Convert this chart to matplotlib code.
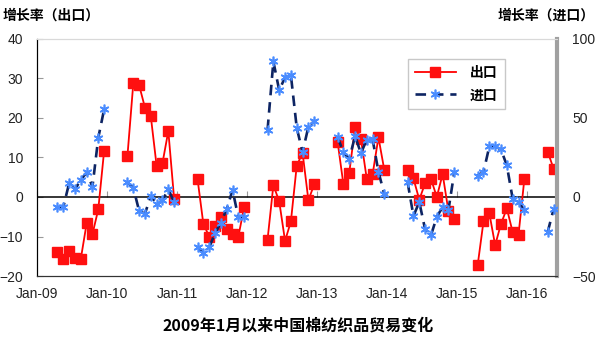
import numpy as np
import pandas as pd
import matplotlib
matplotlib.use("Agg")
import matplotlib.pyplot as plt
from matplotlib.lines import Line2D

CJK = ["Noto Sans CJK SC", "DejaVu Sans"]
LATIN = ["Liberation Sans", "DejaVu Sans"]

# 每年只有4月-12月的数据（2016年只有4-5月）
years = [2009, 2010, 2011, 2012, 2013, 2014, 2015, 2016]

exp_2009 = [-14.0, -15.7, -13.7, -15.4, -15.7, -6.7, -9.4, -3.1, 11.7]
exp_2010 = [10.5, 28.8, 28.3, 22.6, 20.4, 7.8, 8.6, 16.7, -0.6]
exp_2011 = [4.6, -6.8, -10.0, -7.4, -5.0, -8.2, -9.4, -10.0, -2.5]
exp_2012 = [-10.8, 3.0, -1.1, -11.1, -6.2, 7.9, 11.2, -0.8, 3.2]
exp_2013 = [14.0, 3.2, 6.1, 17.7, 14.7, 4.6, 5.7, 15.1, 6.9]
exp_2014 = [6.9, 4.7, -0.7, 3.5, 4.6, 0.0, 5.8, -3.6, -5.6]
exp_2015 = [-17.3, -6.2, -4.1, -12.2, -6.8, -2.9, -8.9, -9.6, 4.5]
exp_2016 = [11.5, 7.2]

imp_2009 = [-6.5, -6.5, 8.7, 4.9, 10.8, 15.6, 6.5, 37.5, 55.5]
imp_2010 = [9.3, 5.9, -8.9, -10.5, 0.6, -4.4, -2.1, 4.9, -3.4]
imp_2011 = [-31.4, -35.7, -31.9, -23.0, -16.2, -7.8, 4.4, -12.9, -12.4]
imp_2012 = [42.4, 85.8, 67.5, 75.8, 77.1, 43.9, 28.3, 44.5, 48.1]
imp_2013 = [38.0, 28.3, 24.1, 38.5, 27.7, 36.3, 36.6, 16.0, 1.9]
imp_2014 = [9.3, -12.0, -3.2, -20.5, -24.3, -12.6, -6.3, -8.2, 15.8]
imp_2015 = [13.6, 15.7, 32.0, 32.0, 30.1, 20.0, -1.1, -3.0, -8.4]
imp_2016 = [-22.2, -7.8]

tick_labels = ["Jan-09", "Jan-10", "Jan-11", "Jan-12",
               "Jan-13", "Jan-14", "Jan-15", "Jan-16"]


def monthly(parts):
    idx = pd.period_range("2009-01", "2016-05", freq="M")
    s = pd.Series(np.nan, index=idx)
    for y, vals in zip(years, parts):
        s[pd.period_range(f"{y}-04", periods=len(vals), freq="M")] = vals
    return s


export = monthly([exp_2009, exp_2010, exp_2011, exp_2012,
                  exp_2013, exp_2014, exp_2015, exp_2016])
imports = monthly([imp_2009, imp_2010, imp_2011, imp_2012,
                   imp_2013, imp_2014, imp_2015, imp_2016])
x = np.arange(len(export)) + 0.5

fig = plt.figure(figsize=(5.96, 3.37), dpi=100)
ax = fig.add_axes([0.0621, 0.181, 0.8725, 0.7033])
ax2 = ax.twinx()

ax.plot(x, export.values, color="#ff0000", lw=1.3, marker="s", ms=6.8,
        mfc="#ff1010", mec="#ff1010", zorder=3)
ax2.plot(x, imports.values, color="#0d2463", lw=1.9, dashes=(4, 2.6),
         marker=(6, 2, 0), ms=7, mec="#4a8cff", mew=1.2, zorder=3)

ax.set_xlim(0, 89.1)
ax.set_ylim(-20, 40)
ax2.set_ylim(-50, 100)
ax.set_yticks(range(-20, 41, 10))
ax2.set_yticks([-50, 0, 50, 100])
ax.set_xticks(np.arange(0, 85, 12))
ax.set_xticklabels(tick_labels)

ax.axhline(0, color="black", lw=1.1, zorder=2)
zero_ax = ax.secondary_xaxis(1 / 3)
zero_ax.set_xticks(np.arange(0, 85, 12))
zero_ax.tick_params(axis="x", direction="in", length=4, color="#999999",
                    labelbottom=False, labeltop=False)
zero_ax.spines["bottom"].set_visible(False)
zero_ax.spines["top"].set_visible(False)

for a in (ax, ax2):
    a.spines["top"].set_color("#d9d9d9")
    a.spines["left"].set_color("black")
    a.spines["bottom"].set_color("#333333")
    a.spines["right"].set_color("#a0a0a0")
    a.spines["right"].set_linewidth(3)
ax.spines["right"].set_visible(False)

ax.tick_params(axis="x", length=0, pad=8, labelsize=10)
ax.tick_params(axis="y", direction="in", length=4, color="#999999",
               pad=10, labelsize=10)
ax2.tick_params(axis="y", length=0, pad=11, labelsize=10)
for lab in ax.get_xticklabels() + ax.get_yticklabels() + ax2.get_yticklabels():
    lab.set_family(LATIN)
    lab.set_color("#222222")

fig.text(0.005, 0.955, "增长率（出口）", family=CJK, fontsize=10,
         fontweight="bold", ha="left", va="center")
fig.text(0.998, 0.955, "增长率（进口）", family=CJK, fontsize=10,
         fontweight="bold", ha="right", va="center")
fig.text(0.5, 0.033, "2009年1月以来中国棉纺织品贸易变化", family=CJK,
         fontsize=11.5, fontweight="bold", ha="center", va="center")

handles = [
    Line2D([], [], color="#ff0000", lw=1.3, marker="s", ms=6.8,
           mfc="#ff1010", mec="#ff1010"),
    Line2D([], [], color="#0d2463", lw=1.9, dashes=(4, 2.6),
           marker=(6, 2, 0), ms=7, mec="#4a8cff", mew=1.2),
]
leg = ax2.legend(handles, ["出口", "进口"], loc="upper right",
                 bbox_to_anchor=(0.913, 0.945), frameon=True, fancybox=False,
                 edgecolor="#bbbbbb", handlelength=3.0, handletextpad=1.0,
                 borderpad=0.5, labelspacing=0.6,
                 prop={"family": CJK, "size": 10, "weight": "bold"})
leg.get_frame().set_linewidth(1.0)

fig.savefig("out.png", dpi=100)
